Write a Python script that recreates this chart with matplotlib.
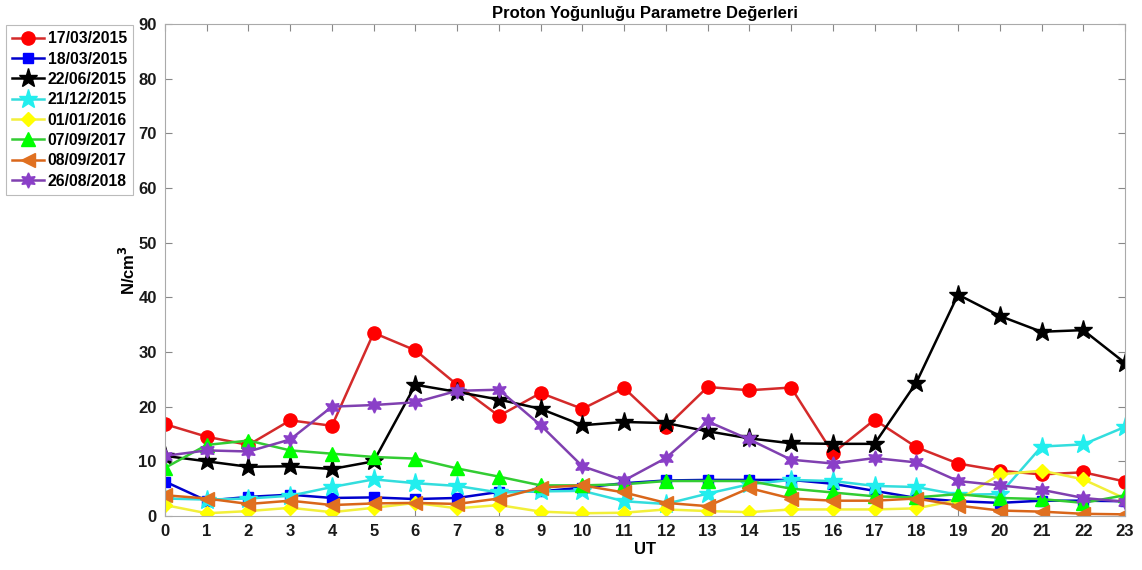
import matplotlib
matplotlib.use("Agg")
import matplotlib.pyplot as plt

plt.rcParams['font.family'] = ['Liberation Sans', 'DejaVu Sans']
plt.rcParams['font.weight'] = 'bold'

hours = list(range(24))

d_17_03_2015 = [16.8, 14.5, 13.0, 17.5, 16.5, 33.5, 30.3, 24.0, 18.3, 22.5, 19.6, 23.4,
                16.2, 23.6, 23.0, 23.5, 11.5, 17.6, 12.6, 9.6, 8.3, 7.6, 8.0, 6.3]
d_18_03_2015 = [6.3, 2.8, 3.5, 3.9, 3.3, 3.4, 3.1, 3.3, 4.4, 4.5, 5.2, 6.0,
                6.5, 6.6, 6.6, 6.6, 5.9, 4.6, 3.3, 2.7, 2.4, 2.8, 2.8, 2.7]
d_22_06_2015 = [11.0, 10.0, 9.0, 9.1, 8.6, 10.0, 24.0, 22.7, 21.3, 19.6, 16.6, 17.2,
                17.0, 15.5, 14.2, 13.3, 13.2, 13.2, 24.4, 40.5, 36.6, 33.7, 34.0, 28.0]
d_21_12_2015 = [3.2, 3.0, 3.2, 3.7, 5.3, 6.7, 6.0, 5.5, 4.3, 4.5, 4.6, 2.7,
                2.2, 4.1, 5.8, 6.6, 6.4, 5.5, 5.3, 3.9, 4.0, 12.7, 13.1, 16.3]
d_01_01_2016 = [2.0, 0.5, 0.9, 1.5, 0.7, 1.5, 2.4, 1.4, 2.0, 0.8, 0.5, 0.6,
                1.2, 0.9, 0.7, 1.2, 1.2, 1.2, 1.4, 2.9, 7.6, 8.3, 6.7, 3.2]
d_07_09_2017 = [8.8, 13.0, 13.8, 12.0, 11.4, 10.8, 10.5, 8.7, 7.2, 5.6, 5.6, 5.8,
                6.4, 6.4, 6.4, 5.0, 4.3, 3.6, 3.4, 4.0, 3.3, 3.1, 2.4, 3.8]
d_08_09_2017 = [3.8, 3.2, 2.2, 2.8, 2.0, 2.3, 2.4, 2.2, 3.2, 5.2, 5.6, 4.3,
                2.4, 1.8, 5.1, 3.2, 2.8, 2.8, 3.2, 1.9, 1.0, 0.8, 0.4, 0.3]
d_26_08_2018 = [11.0, 12.0, 11.8, 14.0, 20.0, 20.3, 20.8, 22.9, 23.1, 16.6, 9.1, 6.5,
                10.6, 17.3, 14.0, 10.3, 9.6, 10.6, 9.8, 6.4, 5.6, 4.8, 3.3, 2.6]

labels = ['17/03/2015', '18/03/2015', '22/06/2015', '21/12/2015',
          '01/01/2016', '07/09/2017', '08/09/2017', '26/08/2018']
series = [d_17_03_2015, d_18_03_2015, d_22_06_2015, d_21_12_2015,
          d_01_01_2016, d_07_09_2017, d_08_09_2017, d_26_08_2018]

styles = [
    dict(color='#d42a2a', marker='o', mfc='#ff0000', mec='#ff0000', ms=9.5),
    dict(color='#0000cc', marker='s', mfc='#0000ff', mec='#0000ff', ms=7.5),
    dict(color='black', marker='*', mfc='black', mec='black', ms=14),
    dict(color='#33dddd', marker='*', mfc='#22eeee', mec='#22eeee', ms=14),
    dict(color='#f2ef3a', marker='D', mfc='#ffff00', mec='#ffff00', ms=7.5),
    dict(color='#33cc33', marker='^', mfc='#00ff00', mec='#00ff00', ms=9.5),
    dict(color='#d9661a', marker='<', mfc='#e07020', mec='#e07020', ms=9.5),
    dict(color='#8040b0', marker=(6, 1, 0), mfc='#8a3fc8', mec='#8a3fc8', ms=11),
]

fig = plt.figure(figsize=(11.42, 5.70), dpi=100)
ax = fig.add_axes([165 / 1142, 1 - 516 / 570, (1125 - 165) / 1142, (516 - 24) / 570])

for vals, lab, st in zip(series, labels, styles):
    ax.plot(hours, vals, lw=1.8, label=lab, **st)

ax.set_xlim(0, 23)
ax.set_ylim(0, 90)
ax.set_xticks(hours)
ax.set_yticks(range(0, 91, 10))
ax.tick_params(direction='in', top=True, right=True, length=5, width=0.8,
               labelsize=12, colors='#888888', labelcolor='#1a1a1a', pad=6)
for lbl in ax.get_xticklabels() + ax.get_yticklabels():
    lbl.set_fontweight('bold')
for sp in ax.spines.values():
    sp.set_color('#aaaaaa')
    sp.set_linewidth(0.8)

ax.set_xlabel('UT', fontsize=12, fontweight='bold', labelpad=2)
ax.set_ylabel('N/cm$^\\mathbf{3}$', fontsize=12, fontweight='bold', labelpad=0)
ax.set_title('Proton Yoğunluğu Parametre Değerleri', fontsize=12,
             fontweight='bold', pad=4)

leg = fig.legend(loc='upper left', bbox_to_anchor=(6 / 1142, 1 - 25 / 570),
                 prop={'weight': 'bold', 'size': 11.3},
                 frameon=True, fancybox=False, edgecolor='#aaaaaa',
                 handlelength=2.0, handletextpad=0.25, labelspacing=0.34,
                 borderpad=0.4, borderaxespad=0)
leg.get_frame().set_linewidth(0.8)

fig.savefig('out.png', dpi=100)
